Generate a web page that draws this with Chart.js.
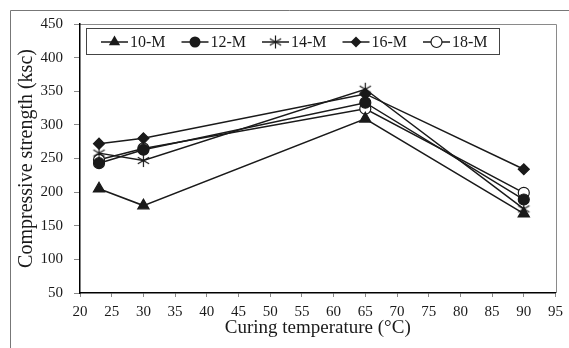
<!DOCTYPE html>
<html>
<head>
<meta charset="utf-8">
<script src="https://cdn.jsdelivr.net/npm/chart.js@4/dist/chart.umd.min.js"></script>
<style>
html,body{margin:0;padding:0;background:#fff;}
#wrap{width:569px;height:348px;position:relative;}
</style>
</head>
<body>
<div id="wrap"><canvas id="c" width="569" height="348"></canvas></div>
<script>
const temps = [23, 30, 65, 90];
const m10 = [205, 180, 309, 168];
const m12 = [243, 263, 333, 189];
const m14 = [258, 247, 353, 175];
const m16 = [272, 280, 346, 234];
const m18 = [248, 265, 324, 199];
const seriesNames = ['10-M', '12-M', '14-M', '16-M', '18-M'];
const xTitle = 'Curing temperature (\u00B0C)';
const yTitle = 'Compressive strength (ksc)';

const INK = '#1a1a1a';
const FONT = "'Liberation Serif', 'Times New Roman', serif";

function starCanvas(r) {
  const s = Math.ceil(r * 2 + 2);
  const cv = document.createElement('canvas');
  cv.width = s; cv.height = s;
  const g = cv.getContext('2d');
  const c = s / 2;
  g.strokeStyle = INK; g.lineWidth = 1.2;
  g.beginPath();
  const a = r * 0.87;
  g.moveTo(c - a, c - r * 0.5); g.lineTo(c + a, c + r * 0.5);
  g.moveTo(c - a, c + r * 0.5); g.lineTo(c + a, c - r * 0.5);
  g.moveTo(c, c - r); g.lineTo(c, c + r);
  g.stroke();
  return cv;
}
const starImg = starCanvas(6.5);

function pairs(vals) { return temps.map((t, i) => ({x: t, y: vals[i]})); }

const styles = [
  {style: 'triangle', radius: 6.5, bg: INK},
  {style: 'circle', radius: 5.5, bg: INK},
  {style: starImg, radius: 6.5, bg: INK},
  {style: 'rectRot', radius: 5.5, bg: INK},
  {style: 'circle', radius: 5.5, bg: '#fff'}
];
const allVals = [m10, m12, m14, m16, m18];

const datasets = allVals.map((v, i) => ({
  label: seriesNames[i],
  data: pairs(v),
  borderColor: INK,
  borderWidth: 1.5,
  pointStyle: styles[i].style,
  pointRadius: styles[i].radius,
  pointBackgroundColor: styles[i].bg,
  pointBorderColor: INK,
  pointBorderWidth: 1.2,
  tension: 0,
  fill: false
}));

function drawMarker(ctx, kind, x, y) {
  ctx.save();
  ctx.strokeStyle = INK; ctx.fillStyle = INK; ctx.lineWidth = 1.2;
  ctx.beginPath();
  if (kind === 0) {
    const r = 6.5;
    ctx.moveTo(x, y - r); ctx.lineTo(x + r * 0.87, y + r * 0.5); ctx.lineTo(x - r * 0.87, y + r * 0.5); ctx.closePath(); ctx.fill();
  } else if (kind === 1) {
    ctx.arc(x, y, 5.5, 0, Math.PI * 2); ctx.fill();
  } else if (kind === 2) {
    ctx.drawImage(starImg, x - starImg.width / 2, y - starImg.height / 2);
  } else if (kind === 3) {
    const r = 5.5;
    ctx.moveTo(x, y - r); ctx.lineTo(x + r, y); ctx.lineTo(x, y + r); ctx.lineTo(x - r, y); ctx.closePath(); ctx.fill();
  } else {
    ctx.fillStyle = '#fff';
    ctx.arc(x, y, 5.5, 0, Math.PI * 2); ctx.fill(); ctx.stroke();
  }
  ctx.restore();
}

const framePlugin = {
  id: 'frame',
  beforeDraw(chart) {
    const ctx = chart.ctx;
    ctx.save();
    ctx.strokeStyle = '#777'; ctx.lineWidth = 1;
    ctx.beginPath();
    ctx.moveTo(10.5, 348); ctx.lineTo(10.5, 10.5); ctx.lineTo(569, 10.5);
    ctx.stroke();
    const a = chart.chartArea;
    ctx.strokeStyle = '#8a8a8a';
    ctx.beginPath();
    ctx.moveTo(a.left, Math.round(a.top) + 0.5); ctx.lineTo(Math.round(a.right) + 0.5, Math.round(a.top) + 0.5);
    ctx.lineTo(Math.round(a.right) + 0.5, a.bottom);
    ctx.stroke();
    ctx.restore();
  },
  afterDraw(chart) {
    const ctx = chart.ctx;
    ctx.save();
    ctx.fillStyle = '#fff';
    ctx.fillRect(86.5, 28.5, 413, 26);
    ctx.strokeStyle = '#444'; ctx.lineWidth = 1;
    ctx.strokeRect(86.5, 28.5, 413, 26);
    ctx.font = '16px ' + FONT;
    ctx.textBaseline = 'middle';
    ctx.textAlign = 'left';
    const cy = 42;
    for (let i = 0; i < seriesNames.length; i++) {
      const x0 = 101 + i * 80.5;
      ctx.strokeStyle = INK; ctx.lineWidth = 1.5;
      ctx.beginPath(); ctx.moveTo(x0, cy); ctx.lineTo(x0 + 27, cy); ctx.stroke();
      drawMarker(ctx, i, x0 + 13.5, cy);
      ctx.fillStyle = INK;
      ctx.fillText(seriesNames[i], x0 + 29, cy + 1);
    }
    ctx.restore();
  }
};

new Chart(document.getElementById('c'), {
  type: 'line',
  data: {datasets},
  options: {
    responsive: false,
    animation: false,
    devicePixelRatio: 1,
    layout: {padding: {top: 24, right: 11, left: 0, bottom: 0}},
    plugins: {legend: {display: false}, tooltip: {enabled: false}},
    scales: {
      x: {
        type: 'linear', min: 20, max: 95,
        ticks: {stepSize: 5, color: INK, font: {family: FONT, size: 15}, padding: 6, maxRotation: 0, autoSkip: false},
        grid: {drawOnChartArea: false, drawTicks: true, tickLength: 4, color: '#888'},
        border: {color: '#000', width: 1.5},
        title: {display: true, text: xTitle, color: INK, font: {family: FONT, size: 19}, padding: {top: 0, bottom: 9}},
        afterFit(s) { s.height = 55; }
      },
      y: {
        min: 50, max: 450,
        ticks: {stepSize: 50, color: INK, font: {family: FONT, size: 15}, padding: 11},
        grid: {drawOnChartArea: false, drawTicks: true, tickLength: 6, color: '#888'},
        border: {color: '#000', width: 1.5},
        title: {display: true, text: yTitle, color: INK, font: {family: FONT, size: 20}, padding: {top: 15, bottom: 0}},
        afterFit(s) { s.width = 80; }
      }
    }
  },
  plugins: [framePlugin]
});
</script>
</body>
</html>
